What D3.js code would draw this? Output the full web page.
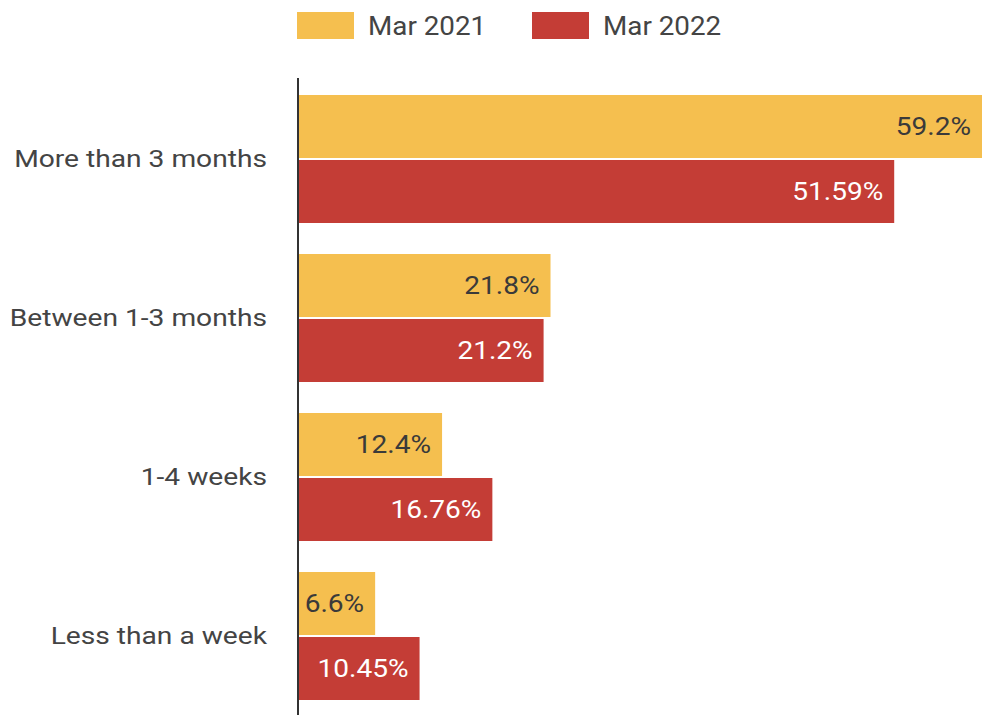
<!DOCTYPE html>
<html>
<head>
<meta charset="utf-8">
<script src="https://cdn.jsdelivr.net/npm/d3@7"></script>
<style>
  html, body { margin: 0; padding: 0; background: #fff; }
  svg { display: block; font-family: Roboto, "Noto Sans", sans-serif; }
</style>
</head>
<body>
<svg id="chart" width="987" height="715"></svg>
<script>
const categories = ["More than 3 months", "Between 1-3 months", "1-4 weeks", "Less than a week"];
const seriesNames = ["Mar 2021", "Mar 2022"];
const mar2021 = [59.2, 21.8, 12.4, 6.6];
const mar2022 = [51.59, 21.2, 16.76, 10.45];
const colors = ["#F5BF4F", "#C43D36"];
const labelColors = ["#3a3a3a", "#ffffff"];

const svg = d3.select("#chart");
const seriesValues = [mar2021, mar2022];

const rows = categories.map((c, i) => ({
  category: c,
  values: seriesNames.map((s, j) => ({ series: s, idx: j, value: seriesValues[j][i] }))
}));

const y0 = d3.scaleBand().domain(categories).range([79.5, 715.5]).paddingInner(0.195).paddingOuter(0.0975);
const y1 = d3.scaleBand().domain(seriesNames).range([0, y0.bandwidth()]).paddingInner(0.031);
const x = d3.scaleLinear().domain([0, 59.2]).range([299, 982]);

const groups = svg.append("g").selectAll("g").data(rows).join("g")
  .attr("transform", d => `translate(0,${y0(d.category)})`);

groups.selectAll("rect").data(d => d.values).join("rect")
  .attr("x", x(0))
  .attr("y", d => y1(d.series))
  .attr("width", d => x(d.value) - x(0))
  .attr("height", y1.bandwidth())
  .attr("fill", d => colors[d.idx]);

const valStretch = 1.1;
groups.selectAll("text.val").data(d => d.values).join("text")
  .attr("class", "val")
  .attr("transform", d => `translate(${x(d.value) - 11},${y1(d.series) + y1.bandwidth() / 2}) scale(${valStretch},1)`)
  .attr("dy", "0.35em")
  .attr("text-anchor", "end")
  .attr("font-size", 25.5)
  .attr("fill", d => labelColors[d.idx])
  .text(d => d.value + "%");

// category axis
const catStretch = 1.15;
const yAxis = d3.axisLeft(y0).tickSize(0).tickPadding(31);
const ag = svg.append("g").attr("transform", `translate(${x(0) - 1},0)`).call(yAxis);
ag.select(".domain").remove();
ag.selectAll("text")
  .attr("x", -31 / catStretch)
  .attr("transform", `scale(${catStretch},1)`)
  .attr("font-size", 24.5)
  .attr("fill", "#444").attr("font-family", "Roboto, 'Noto Sans', sans-serif");

svg.append("line")
  .attr("x1", x(0) - 1).attr("x2", x(0) - 1)
  .attr("y1", 78).attr("y2", 715)
  .attr("stroke", "#333").attr("stroke-width", 2);

// legend
const legendX = [297, 532];
const lg = svg.append("g").selectAll("g").data(seriesNames).join("g")
  .attr("transform", (d, i) => `translate(${legendX[i]},12)`);
lg.append("rect").attr("width", 57).attr("height", 27).attr("fill", (d, i) => colors[i]);
lg.append("text")
  .attr("transform", "translate(71,13.5) scale(1.07,1)")
  .attr("dy", "0.35em")
  .attr("font-size", 26).attr("fill", "#444").text(d => d);
</script>
</body>
</html>
